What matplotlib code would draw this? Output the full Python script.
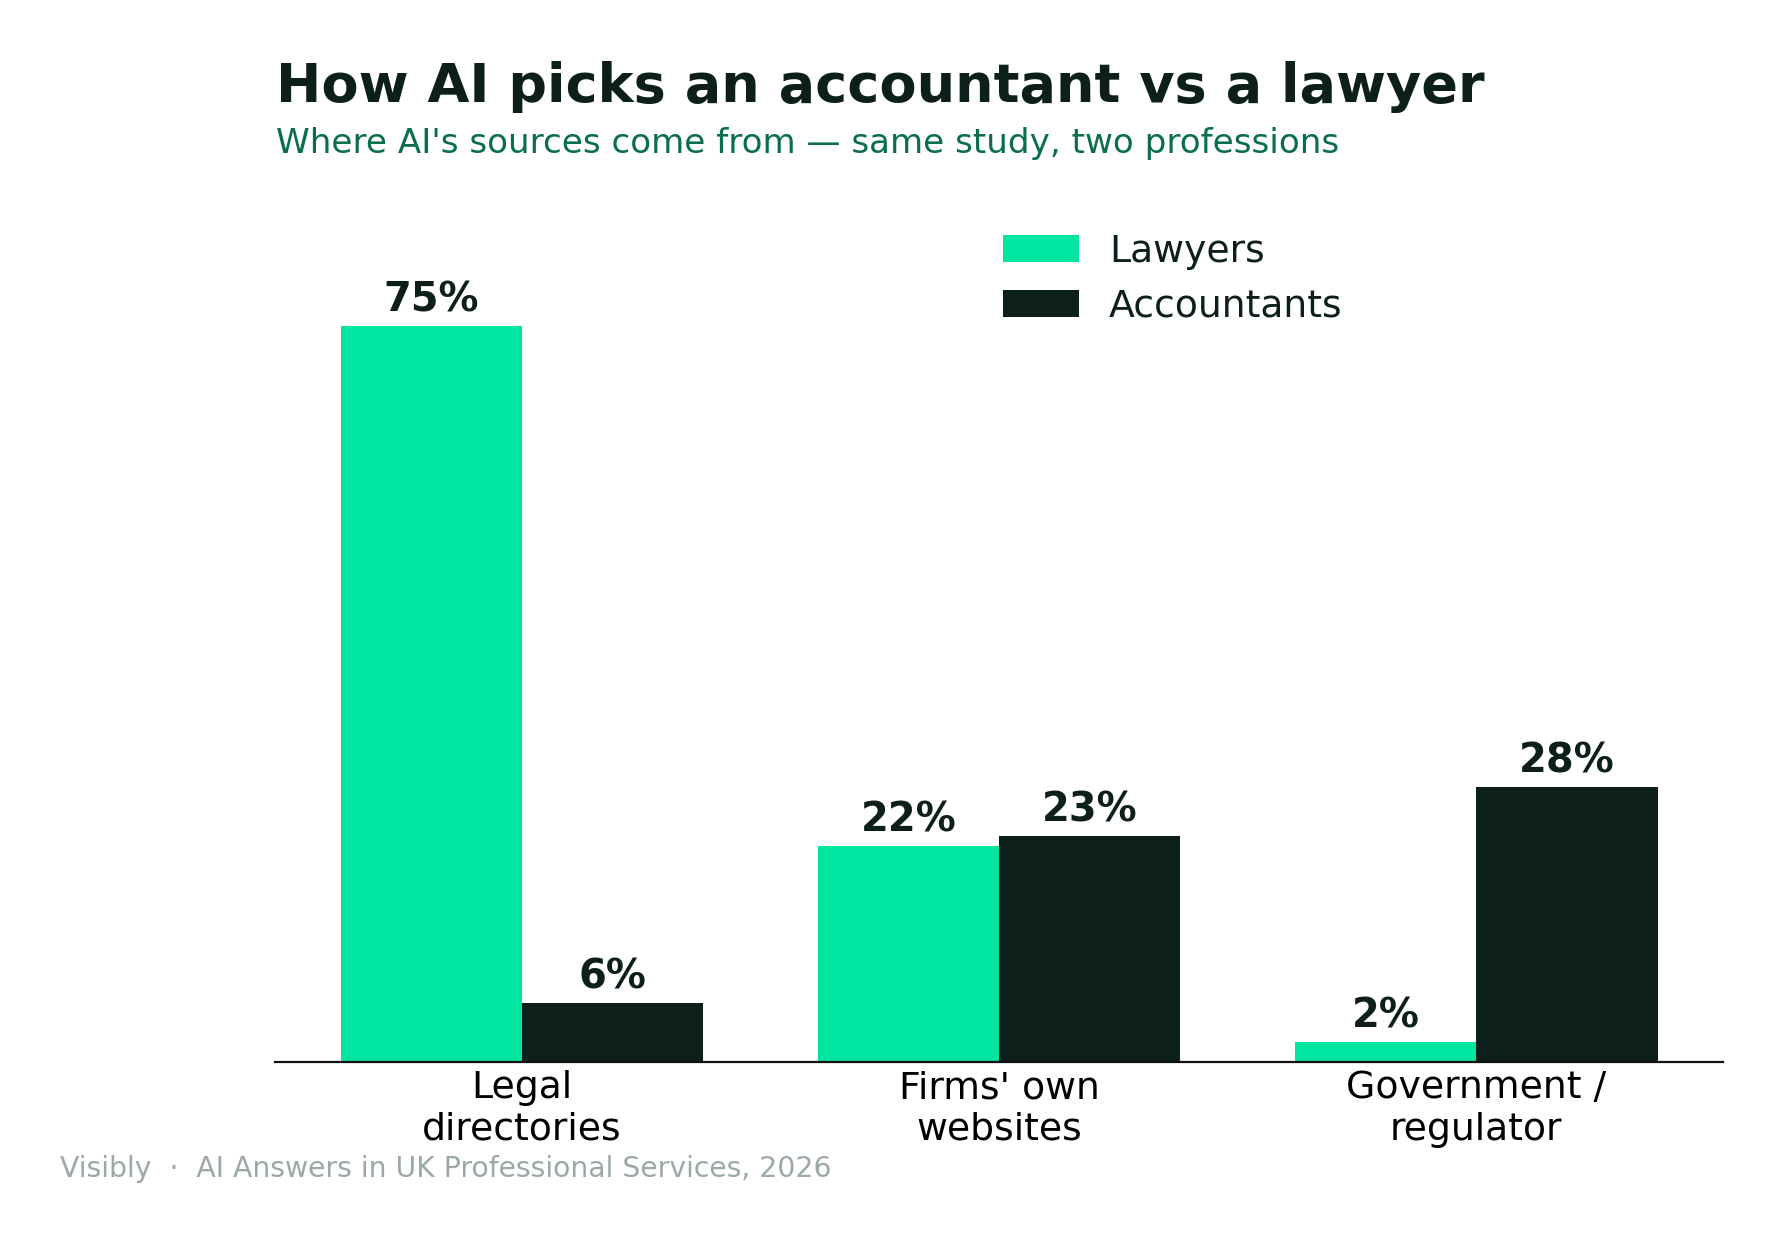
import matplotlib
matplotlib.use('Agg')
import numpy as np
import matplotlib.pyplot as plt

# data
categories = ['Legal\ndirectories', "Firms' own\nwebsites", 'Government /\nregulator']
lawyers = [75, 22, 2]
accountants = [6, 23, 28]
series_names = ['Lawyers', 'Accountants']

GREEN = '#00E5A0'
DARK = '#0C1F1A'

fig = plt.figure(figsize=(8.915, 6.205), dpi=200)
ax = fig.add_axes([0.1542, 0.1442, 0.8124, 0.6712])

x = np.arange(len(categories))
w = 0.38
b1 = ax.bar(x - w / 2, lawyers, width=w, color=GREEN, label=series_names[0])
b2 = ax.bar(x + w / 2, accountants, width=w, color=DARK, label=series_names[1])

# value labels on top of bars
for bars, vals in [(b1, lawyers), (b2, accountants)]:
    for rect, v in zip(bars, vals):
        ax.annotate('{0}%'.format(v), (rect.get_x() + rect.get_width() / 2, rect.get_height()),
                    xytext=(0, 2), textcoords='offset points', ha='center', va='bottom',
                    fontsize=14.4, fontweight='bold', color=DARK)

ax.set_ylim(0, 84.9)
ax.set_xticks(x)
ax.set_xticklabels(categories, fontsize=13.6, color='black')
ax.tick_params(axis='x', length=0, pad=3)
ax.set_yticks([])
for s in ['top', 'right', 'left']:
    ax.spines[s].set_visible(False)
ax.spines['bottom'].set_color('#111111')
ax.spines['bottom'].set_linewidth(0.8)

leg = ax.legend(loc='upper left', bbox_to_anchor=(988 / 1783, 1 - 218.5 / 1241),
                bbox_transform=fig.transFigure, frameon=False, fontsize=13.6,
                borderaxespad=0, labelspacing=0.5)
for t in leg.get_texts():
    t.set_color(DARK)

fig.text(276 / 1783, 1 - 101.7 / 1241, 'How AI picks an accountant vs a lawyer',
         fontsize=19.5, fontweight='bold', color=DARK, va='baseline', ha='left')
fig.text(276 / 1783, 1 - 153.3 / 1241, "Where AI's sources come from \u2014 same study, two professions",
         fontsize=12.3, color='#0A6E4A', va='baseline', ha='left')
fig.text(60 / 1783, 1 - 1176.7 / 1241, 'Visibly  \u00b7  AI Answers in UK Professional Services, 2026',
         fontsize=10.2, color='#9AA9A4', va='baseline', ha='left')

fig.savefig('out.png', dpi=200)
